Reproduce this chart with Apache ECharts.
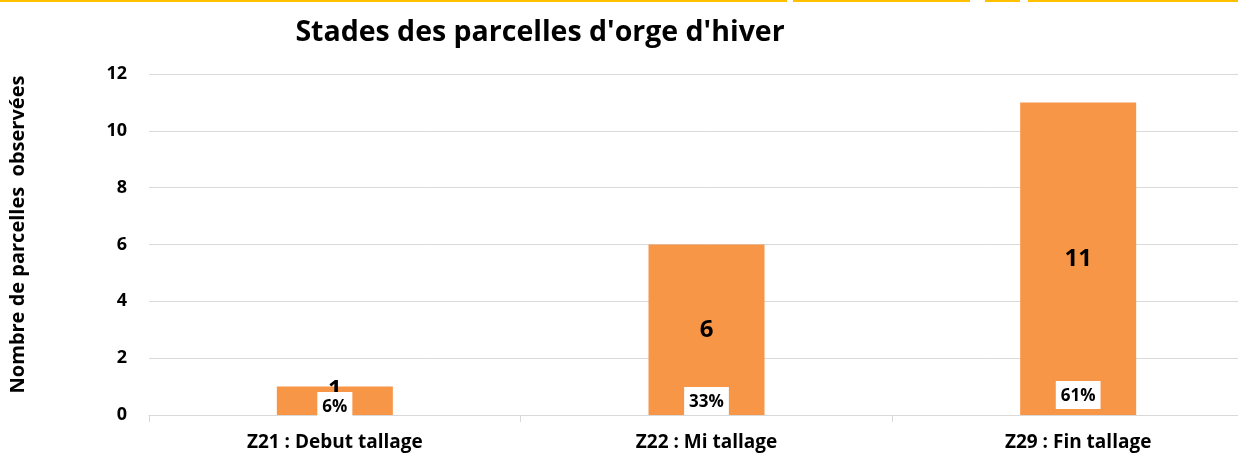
<!DOCTYPE html>
<html>
<head>
<meta charset="utf-8">
<script src="https://cdn.jsdelivr.net/npm/echarts@6/dist/echarts.min.js"></script>
<style>html,body{margin:0;padding:0;background:#fff;overflow:hidden;}#c{width:1264px;height:455px;}</style>
</head>
<body>
<div id="c"></div>
<script>
var categories = ['Z21 : Debut tallage', 'Z22 : Mi tallage', 'Z29 : Fin tallage'];
var values = [1, 6, 11];
var percents = ['6%', '33%', '61%'];
var yTicks = [0, 2, 4, 6, 8, 10, 12];

var chart = echarts.init(document.getElementById('c'));
var font = '"Open Sans", "Noto Sans", sans-serif';
var valueLabelPos = [[0, -11], [0, 0], [0, 0]];
var pctOffsets = [[0, 5], [0, 0], [0, -6]];

chart.setOption({
  animation: false,
  graphic: [
    {type: 'rect', shape: {x: 0, y: 0, width: 787, height: 2}, style: {fill: '#FFC000'}},
    {type: 'rect', shape: {x: 793, y: 0, width: 177, height: 2}, style: {fill: '#FFC000'}},
    {type: 'rect', shape: {x: 985, y: 0, width: 35, height: 2}, style: {fill: '#FFC000'}},
    {type: 'rect', shape: {x: 1028, y: 0, width: 210, height: 2}, style: {fill: '#FFC000'}}
  ],
  title: {
    text: "Stades des parcelles d'orge d'hiver",
    left: 535, top: 13, textAlign: 'center',
    textStyle: {fontFamily: font, fontWeight: 'bold', fontSize: 28.5, color: '#000'}
  },
  grid: {left: 146, right: 0, top: 74, bottom: 40},
  xAxis: {
    type: 'category', data: categories,
    axisLine: {lineStyle: {color: '#d9d9d9', width: 1}},
    axisTick: {show: true, length: 7, lineStyle: {color: '#d9d9d9'}},
    axisLabel: {fontFamily: font, fontWeight: 'bold', fontSize: 19, color: '#000', margin: 18}
  },
  yAxis: {
    type: 'value', min: yTicks[0], max: yTicks[yTicks.length - 1], interval: 2,
    name: 'Nombre de parcelles  observées', nameLocation: 'middle', nameGap: 121, nameRotate: 90,
    nameTextStyle: {fontFamily: font, fontWeight: 'bold', fontSize: 20, color: '#000', padding: [0, 0, 0, 20]},
    axisLine: {show: false}, axisTick: {show: false},
    splitLine: {lineStyle: {color: '#d9d9d9', width: 1}},
    axisLabel: {fontFamily: font, fontWeight: 'bold', fontSize: 18, color: '#000', margin: 22}
  },
  series: [
    {
      type: 'bar', barWidth: 116,
      itemStyle: {color: '#F79646'},
      data: values.map(function (v, i) {
        return {value: v, label: {offset: valueLabelPos[i]}};
      }),
      label: {show: true, position: 'inside', fontFamily: font, fontWeight: 'bold', fontSize: 24, color: '#000'}
    },
    {
      type: 'bar', barWidth: 116, barGap: '-100%', silent: true, z: 5,
      itemStyle: {color: 'rgba(0,0,0,0)'},
      data: values.map(function (v, i) {
        return {value: v, label: {offset: pctOffsets[i]}};
      }),
      label: {
        show: true, position: 'insideBottom', distance: 0,
        formatter: function (p) { return percents[p.dataIndex]; },
        fontFamily: font, fontWeight: 'bold', fontSize: 17, color: '#000',
        backgroundColor: '#fff', padding: [7, 5, 4, 5]
      }
    }
  ]
});
</script>
</body>
</html>
